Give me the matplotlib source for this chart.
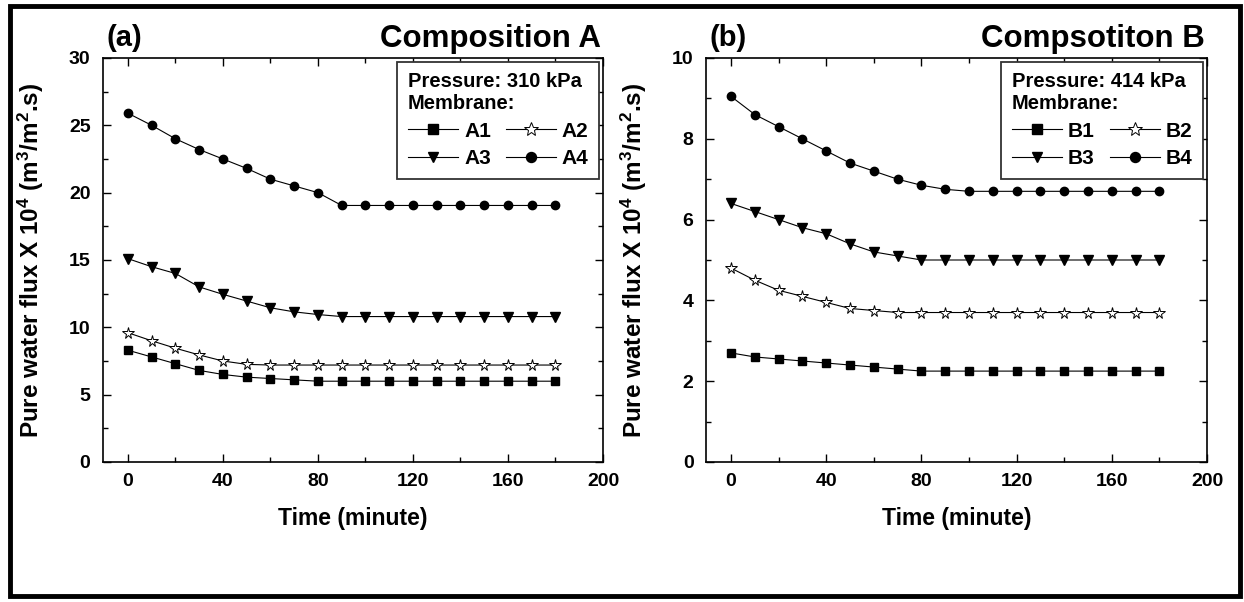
import matplotlib
matplotlib.use("Agg")
import matplotlib.pyplot as plt
from matplotlib.patches import Rectangle
from matplotlib.ticker import MultipleLocator

plt.rcParams['font.family'] = ['Liberation Sans', 'DejaVu Sans']
plt.rcParams['font.weight'] = 'bold'
plt.rcParams['mathtext.fontset'] = 'custom'
plt.rcParams['mathtext.rm'] = 'Liberation Sans:bold'
plt.rcParams['mathtext.bf'] = 'Liberation Sans:bold'
plt.rcParams['mathtext.default'] = 'bf'

# ---------------- data ----------------
time_min = [0, 10, 20, 30, 40, 50, 60, 70, 80, 90, 100, 110, 120, 130, 140, 150, 160, 170, 180]

A1 = [8.3, 7.8, 7.3, 6.8, 6.5, 6.3, 6.2, 6.1, 6.0, 6.0, 6.0, 6.0, 6.0, 6.0, 6.0, 6.0, 6.0, 6.0, 6.0]
A2 = [9.6, 9.0, 8.45, 7.95, 7.5, 7.25, 7.2, 7.2, 7.2, 7.2, 7.2, 7.2, 7.2, 7.2, 7.2, 7.2, 7.2, 7.2, 7.2]
A3 = [15.1, 14.5, 14.0, 13.0, 12.45, 11.95, 11.45, 11.15, 10.95, 10.8, 10.8, 10.8, 10.8, 10.8, 10.8, 10.8, 10.8, 10.8, 10.8]
A4 = [25.9, 25.0, 24.0, 23.2, 22.5, 21.8, 21.0, 20.5, 20.0, 19.05, 19.05, 19.05, 19.05, 19.05, 19.05, 19.05, 19.05, 19.05, 19.05]

B1 = [2.7, 2.6, 2.55, 2.5, 2.45, 2.4, 2.35, 2.3, 2.25, 2.25, 2.25, 2.25, 2.25, 2.25, 2.25, 2.25, 2.25, 2.25, 2.25]
B2 = [4.8, 4.5, 4.25, 4.1, 3.95, 3.8, 3.75, 3.7, 3.7, 3.7, 3.7, 3.7, 3.7, 3.7, 3.7, 3.7, 3.7, 3.7, 3.7]
B3 = [6.4, 6.2, 6.0, 5.8, 5.65, 5.4, 5.2, 5.1, 5.0, 5.0, 5.0, 5.0, 5.0, 5.0, 5.0, 5.0, 5.0, 5.0, 5.0]
B4 = [9.05, 8.6, 8.3, 8.0, 7.7, 7.4, 7.2, 7.0, 6.85, 6.75, 6.7, 6.7, 6.7, 6.7, 6.7, 6.7, 6.7, 6.7, 6.7]

panel_tags = ["(a)", "(b)"]
panel_titles = ["Composition A", "Compsotiton B"]
pressures = ["Pressure: 310 kPa", "Pressure: 414 kPa"]
labels_a = ["A1", "A2", "A3", "A4"]
labels_b = ["B1", "B2", "B3", "B4"]
ylims = [30, 10]
y_major = [5, 2]
y_minor = [2.5, 1]
x_label = "Time (minute)"
y_label = r"Pure water flux X 10$^{4}$ (m$^{3}$/m$^{2}$.s)"

# ---------------- styles ----------------
styles = [
    dict(marker='s', ms=5.5, mfc='black', mec='black'),
    dict(marker='*', ms=8.5, mfc='white', mec='black', mew=0.7),
    dict(marker='v', ms=6.5, mfc='black', mec='black'),
    dict(marker='o', ms=6.0, mfc='black', mec='black'),
]

W, H = 1244, 602
fig = plt.figure(figsize=(W / 100, H / 100), dpi=100)

ax_boxes = [(103, 58, 603, 462), (706, 58, 1207, 462)]
series = [[A1, A2, A3, A4], [B1, B2, B3, B4]]
labels = [labels_a, labels_b]

for i in range(2):
    x0, y0, x1, y1 = ax_boxes[i]
    ax = fig.add_axes([x0 / W, (H - y1) / H, (x1 - x0) / W, (y1 - y0) / H])
    handles = []
    for s, lab, st in zip(series[i], labels[i], styles):
        h, = ax.plot(time_min, s, color='black', lw=0.8, label=lab, **st)
        handles.append(h)
    ax.set_xlim(-10.5, 200)
    ax.set_ylim(0, ylims[i])
    ax.xaxis.set_major_locator(MultipleLocator(40))
    ax.xaxis.set_minor_locator(MultipleLocator(20))
    ax.yaxis.set_major_locator(MultipleLocator(y_major[i]))
    ax.yaxis.set_minor_locator(MultipleLocator(y_minor[i]))
    ax.tick_params(which='both', direction='in', top=True, right=True, width=1.0)
    ax.tick_params(which='major', length=6)
    ax.tick_params(which='minor', length=3.5)
    ax.tick_params(axis='x', which='major', pad=8, labelsize=14)
    ax.tick_params(axis='y', which='major', pad=9, labelsize=14)
    for sp in ax.spines.values():
        sp.set_linewidth(1.2)
    ax.set_xlabel(x_label, fontsize=16.5, fontweight='bold', labelpad=12)
    ax.set_ylabel(y_label, fontsize=17.5, fontweight='bold')
    ax.yaxis.set_label_coords(-0.113, 0.5)
    ax.text(0.006, 1.03, panel_tags[i], transform=ax.transAxes, fontsize=21,
            fontweight='bold', ha='left', va='baseline')
    ax.text(0.995, 1.027, panel_titles[i], transform=ax.transAxes, fontsize=22.5,
            fontweight='bold', ha='right', va='baseline')
    order = [0, 2, 1, 3]
    leg = ax.legend([handles[k] for k in order], [labels[i][k] for k in order],
                    ncol=2, title=pressures[i] + "\nMembrane:", alignment='left',
                    loc='upper right', bbox_to_anchor=(0.992, 0.99),
                    fontsize=15, title_fontproperties=dict(size=14.5, weight='bold'),
                    frameon=True, fancybox=False, framealpha=1, edgecolor='#333333',
                    handlelength=2.4, handletextpad=0.3, columnspacing=0.7,
                    labelspacing=0.4, borderpad=0.5, borderaxespad=0,
                    markerscale=1.2)
    leg.get_frame().set_linewidth(1.3)

fig.patches.append(Rectangle((10 / W, 6 / H), 1230 / W, 590 / H, transform=fig.transFigure,
                             fill=False, edgecolor='black', linewidth=3.5))

fig.savefig("out.png", dpi=100)
